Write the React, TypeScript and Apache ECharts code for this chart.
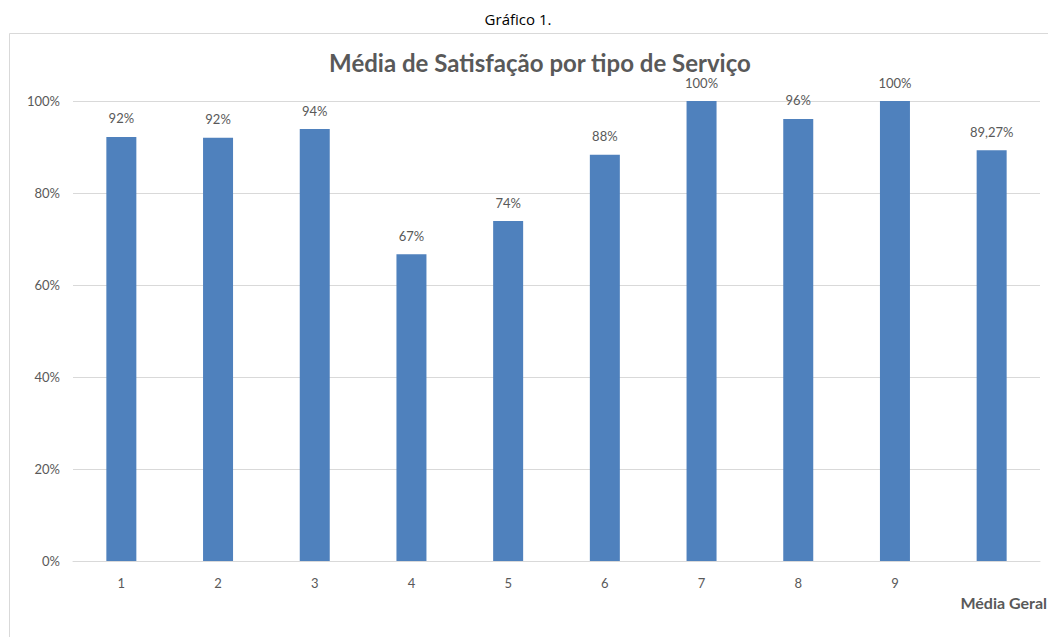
import React, { useEffect, useRef } from "react";
import * as echarts from "echarts";

const categories = ["1", "2", "3", "4", "5", "6", "7", "8", "9", ""];
const values = [92.2, 92, 93.9, 66.7, 73.9, 88.3, 100, 96.1, 100, 89.27];
const valueLabels = ["92%", "92%", "94%", "67%", "74%", "88%", "100%", "96%", "100%", "89,27%"];
const yTicks = [0, 20, 40, 60, 80, 100];

const FONT = "Lato, 'Open Sans', sans-serif";
const GRAY = "#595959";

export default function App() {
  const ref = useRef<HTMLDivElement>(null);
  useEffect(() => {
    if (!ref.current) return;
    const chart = echarts.init(ref.current, null, { renderer: "svg" });
    chart.setOption({
      animation: false,
      backgroundColor: "#ffffff",
      textStyle: { fontFamily: FONT },
      title: {
        text: "Média de Satisfação por tipo de Serviço",
        left: 535,
        textAlign: "center",
        top: 44,
        textStyle: { fontFamily: FONT, fontSize: 24, fontWeight: "bold", color: GRAY, lineHeight: 26 },
      },
      graphic: [
        {
          type: "rect",
          shape: { x: 9.5, y: 33.5, width: 1060, height: 640 },
          style: { fill: "none", stroke: "#d9d9d9", lineWidth: 1 },
          z: -1,
        },
        {
          type: "text",
          x: 518,
          y: 19,
          style: { text: "Gráfico 1.", fill: "#000", font: `15px 'Open Sans', sans-serif`, textAlign: "center", textVerticalAlign: "middle" },
        },
        {
          type: "text",
          x: 1047,
          y: 602,
          style: { text: "Média Geral", fill: GRAY, font: `bold 16px ${FONT}`, textAlign: "right", textVerticalAlign: "middle" },
        },
      ],
      grid: { left: 73, right: 8, top: 101, bottom: 76, containLabel: false },
      xAxis: {
        type: "category",
        data: categories,
        axisLine: { lineStyle: { color: "#d9d9d9" } },
        axisTick: { show: false },
        axisLabel: { color: GRAY, fontSize: 13, margin: 15, fontFamily: FONT },
      },
      yAxis: {
        type: "value",
        min: yTicks[0],
        max: yTicks[yTicks.length - 1],
        interval: 20,
        axisLine: { show: false },
        axisTick: { show: false },
        splitLine: { lineStyle: { color: "#d9d9d9" } },
        axisLabel: { color: GRAY, fontSize: 13, margin: 13, fontFamily: FONT, formatter: (v: number) => `${v}%` },
      },
      series: [
        {
          type: "bar",
          data: values,
          barWidth: 30,
          itemStyle: { color: "#4f81bd" },
          label: {
            show: true,
            position: "top",
            distance: 12,
            color: GRAY,
            fontSize: 13,
            fontFamily: FONT,
            formatter: (p: any) => valueLabels[p.dataIndex],
          },
        },
      ],
    });
    return () => chart.dispose();
  }, []);
  return <div ref={ref} style={{ position: "fixed", left: 0, top: 0, width: 1048, height: 637 }} />;
}
